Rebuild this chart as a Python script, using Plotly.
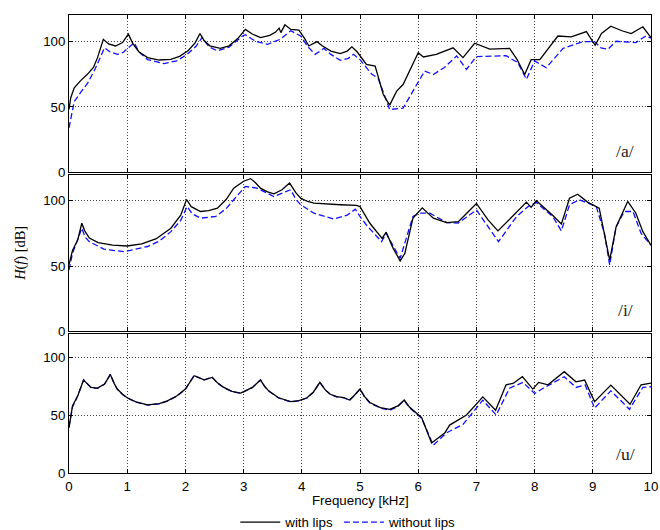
import plotly.graph_objects as go
from plotly.subplots import make_subplots

# ---------- data (frequency in kHz, magnitude in dB) ----------
a_with_f = [0.0, 0.03, 0.09, 0.2, 0.32, 0.42, 0.49, 0.59, 0.68, 0.8, 0.92, 1.02, 1.1, 1.2, 1.35, 1.55, 1.75, 1.9,
            2.05, 2.17, 2.25, 2.32, 2.42, 2.6, 2.75, 2.9, 3.03, 3.15, 3.29, 3.45, 3.55, 3.61, 3.64, 3.71, 3.81,
            3.95, 4.05, 4.12, 4.26, 4.35, 4.5, 4.66, 4.78, 4.86, 4.95, 5.0, 5.11, 5.26, 5.4, 5.51, 5.63, 5.74,
            5.87, 6.0, 6.09, 6.31, 6.6, 6.77, 6.97, 7.1, 7.23, 7.57, 7.7, 7.83, 7.94, 8.09, 8.25, 8.4, 8.63,
            8.89, 9.04, 9.15, 9.31, 9.5, 9.66, 9.86, 10.0]
a_with_v = [48, 57, 64.5, 70, 75, 80, 87.5, 101.5, 98, 96.4, 99, 105.4, 98, 92, 87.5, 85.7, 86.2, 88.5,
            93, 99, 105.9, 100.5, 96.5, 94.6, 96.5, 102, 109, 105.5, 102.8, 104.5, 107, 110, 106.6, 112.5, 109,
            108.4, 102, 96.4, 99.7, 96.5, 92.5, 90.6, 92.5, 95.7, 92, 89, 82.4, 81, 59.4, 51.3, 62, 67,
            79, 91.3, 88, 90, 95, 87.5, 98.5, 96, 94, 94.6, 86, 74.7, 86, 86, 95, 104, 103.3,
            107.4, 96.9, 106, 111.5, 108, 105.9, 111, 102.8]
a_without_f = [0.0, 0.09, 0.2, 0.32, 0.45, 0.61, 0.7, 0.83, 0.93, 1.0, 1.12, 1.2, 1.35, 1.63, 1.85, 2.03, 2.18,
               2.29, 2.4, 2.55, 2.75, 2.98, 3.03, 3.2, 3.41, 3.63, 3.81, 3.98, 4.1, 4.23, 4.38, 4.5, 4.66, 4.8,
               4.89, 5.0, 5.2, 5.31, 5.51, 5.74, 5.97, 6.11, 6.26, 6.45, 6.66, 6.83, 7.0, 7.51, 7.71, 7.86,
               8.0, 8.2, 8.49, 8.83, 9.03, 9.14, 9.26, 9.4, 9.74, 9.91, 10.0]
a_without_v = [34, 54, 61, 68, 79, 95, 92, 90, 91.5, 94, 99, 92, 86, 83, 85, 90, 96,
               103, 96, 92.6, 95.5, 104, 105, 100, 97.7, 101.5, 108, 104, 96, 90, 94.6, 90, 85.5, 87,
               90, 86, 75, 72, 48, 49, 67, 77.3, 74.7, 80, 88.8, 78.6, 88.3, 89, 83.7, 71,
               85, 79.8, 94.6, 99.7, 99.7, 95, 93.9, 100, 99, 104, 102.3]

i_with_f = [0.0, 0.06, 0.15, 0.22, 0.27, 0.35, 0.5, 0.75, 1.0, 1.25, 1.5, 1.75, 1.92, 2.02, 2.1, 2.26, 2.4,
            2.55, 2.7, 2.83, 3.0, 3.12, 3.2, 3.29, 3.4, 3.52, 3.66, 3.79, 3.9, 3.98, 4.1, 4.21, 4.66, 4.94,
            5.0, 5.17, 5.38, 5.45, 5.57, 5.69, 5.77, 5.91, 6.07, 6.26, 6.49, 6.69, 6.8, 7.0, 7.2, 7.37, 7.63,
            7.86, 7.94, 8.03, 8.31, 8.46, 8.6, 8.74, 8.91, 9.11, 9.29, 9.4, 9.6, 9.74, 9.86, 10.0]
i_with_v = [51, 62, 70, 82.8, 77, 71.5, 68, 66, 65.4, 67, 71, 79, 89, 101, 95.5, 91.8, 92.5,
            94.4, 101, 109.7, 115, 117, 114, 109.7, 107, 105.4, 108.5, 113.6, 106, 102, 99.5, 98.2, 97, 96.5,
            95.6, 82.8, 71.3, 76, 63.6, 54, 59.7, 86.7, 94.6, 86.7, 83.3, 84, 89, 98, 85.4, 77, 88.5,
            99, 95, 100, 89, 82.3, 102, 105, 99, 94.4, 54.6, 80, 99.5, 90.5, 76.4, 66]
i_without_f = [0.0, 0.06, 0.22, 0.28, 0.35, 0.6, 0.95, 1.35, 1.55, 1.75, 1.92, 2.03, 2.12, 2.26, 2.52, 2.7,
               2.83, 3.03, 3.23, 3.52, 3.81, 3.9, 3.98, 4.21, 4.55, 4.78, 4.92, 5.0, 5.11, 5.37, 5.45, 5.69,
               5.91, 6.03, 6.2, 6.49, 6.69, 7.0, 7.38, 7.69, 7.89, 8.03, 8.31, 8.46, 8.6, 8.77, 9.06, 9.2,
               9.29, 9.4, 9.54, 9.69, 9.83, 10.0]
i_without_v = [47, 59.7, 79, 72, 68.7, 63, 61, 65, 69, 76.4, 85, 95.6, 90, 86.7, 88, 94,
               100.8, 111, 109.7, 103.3, 108.5, 101, 97, 90.5, 86, 89, 93.6, 88, 81.5, 68.7, 75, 56,
               88, 90.5, 90.5, 83.3, 83, 93, 68.7, 88, 95.6, 98.7, 88, 77, 97, 100.8, 95.6, 75,
               50.8, 80, 91.8, 91.8, 75, 66]

u_with_f = [0.0, 0.06, 0.15, 0.25, 0.38, 0.49, 0.61, 0.71, 0.78, 0.83, 0.92, 1.0, 1.15, 1.35, 1.55, 1.69, 1.85,
            2.0, 2.15, 2.32, 2.46, 2.55, 2.66, 2.8, 2.95, 3.15, 3.29, 3.36, 3.43, 3.6, 3.81, 3.95, 4.09, 4.2,
            4.31, 4.4, 4.49, 4.6, 4.72, 4.82, 4.9, 5.0, 5.08, 5.17, 5.35, 5.51, 5.65, 5.76, 5.85, 5.97, 6.06,
            6.23, 6.34, 6.46, 6.54, 6.83, 7.11, 7.33, 7.51, 7.63, 7.79, 7.97, 8.07, 8.23, 8.51, 8.71, 8.86,
            9.03, 9.31, 9.64, 9.83, 10.0]
u_with_v = [39, 58, 66.7, 80.3, 73.9, 73.3, 76.8, 85, 77, 72.5, 68, 65, 61.5, 58.8, 60, 62.3, 66.5,
            72.5, 84, 80.5, 82.6, 78, 73.9, 70.5, 69, 73.9, 80.3, 75, 71, 65, 61.7, 62.5, 65, 70,
            78.3, 72, 68, 66, 65.2, 63, 67, 72.5, 66, 60.9, 56.5, 55, 58, 63, 57, 51.3, 47.8,
            26, 30.4, 34.8, 41.4, 50.1, 65.8, 54.2, 76.2, 77.4, 83.2, 72.5, 78.3, 76.2, 87.5, 78.8, 80.3,
            61.7, 75.9, 59.4, 76.2, 77.7]
u_without_f = [0.0, 0.06, 0.15, 0.25, 0.38, 0.49, 0.61, 0.71, 0.78, 0.83, 0.92, 1.0, 1.15, 1.35, 1.55, 1.69,
               1.85, 2.0, 2.15, 2.32, 2.46, 2.55, 2.66, 2.8, 2.95, 3.15, 3.29, 3.36, 3.43, 3.6, 3.81, 3.95,
               4.09, 4.2, 4.31, 4.4, 4.49, 4.6, 4.72, 4.82, 4.9, 5.0, 5.08, 5.17, 5.35, 5.51, 5.65, 5.76,
               5.85, 6.06, 6.26, 6.49, 6.77, 7.11, 7.34, 7.57, 7.8, 8.0, 8.14, 8.51, 8.71, 8.87, 9.03, 9.31,
               9.63, 9.86, 10.0]
u_without_v = [40, 57, 66.5, 80.5, 73.6, 73.1, 76.6, 85.3, 76.8, 72.2, 67.8, 64.8, 61.3, 58.6, 59.8, 62.1,
               66.3, 72.3, 84.3, 80.2, 82.8, 77.8, 73.7, 70.3, 68.8, 73.7, 80.5, 74.8, 70.8, 64.8, 61.5, 62.3,
               64.8, 69.8, 78.5, 71.8, 67.8, 65.8, 65, 62.8, 66.8, 72.5, 65.5, 60.5, 56, 54.2, 57.5, 62.6,
               56.5, 47.2, 24, 34.8, 42, 62.9, 50.1, 73.3, 78.3, 68.7, 73, 83.2, 73.9, 76, 56, 71,
               55, 74, 74.5]

vowel_labels = ["/a/", "/i/", "/u/"]
series_names = ["with lips", "without lips"]
x_ticks = [0, 1, 2, 3, 4, 5, 6, 7, 8, 9, 10]
y_ticks = [0, 50, 100]

panels = [
    (a_with_f, a_with_v, a_without_f, a_without_v),
    (i_with_f, i_with_v, i_without_f, i_without_v),
    (u_with_f, u_with_v, u_without_f, u_without_v),
]

fig = make_subplots(rows=3, cols=1, shared_xaxes=True, vertical_spacing=0.0)

for r, (wf, wv, nf, nv) in enumerate(panels, start=1):
    fig.add_trace(go.Scatter(x=nf, y=nv, mode="lines", name=series_names[1],
                             line=dict(color="#1010ff", width=1.3, dash="6px,3px"),
                             showlegend=(r == 1), legendrank=2), row=r, col=1)
    fig.add_trace(go.Scatter(x=wf, y=wv, mode="lines", name=series_names[0],
                             line=dict(color="black", width=1.3),
                             showlegend=(r == 1), legendrank=1), row=r, col=1)

# the captured page is scaled slightly when photographed, so lay out a little larger
W, H = 667, 546
KX, KY = W / 660.0, H / 530.0
plot_left, plot_right = 68 * KX, 651.5 * KX
plot_top, plot_bottom = 14.3 * KY, 470.3 * KY
plot_h = plot_bottom - plot_top


def py(ref_px):
    return (plot_bottom - ref_px * KY) / plot_h


def px(ref_px):
    return (ref_px * KX - plot_left) / (plot_right - plot_left)


domains = [[py(171.1), 1.0], [py(329.3), py(173.3)], [0.0, py(332.0)]]
tickfont = dict(family="Liberation Sans, Arial, sans-serif", size=13.3, color="black")
for r in range(1, 4):
    fig.update_xaxes(row=r, col=1, range=[0, 10], tickvals=x_ticks, showticklabels=(r == 3),
                     ticks="inside", ticklen=4, tickcolor="black", showline=True, mirror="ticks",
                     linecolor="black", linewidth=1, showgrid=True, gridcolor="#444444",
                     griddash="1px,2px", gridwidth=1, zeroline=False, tickfont=tickfont,
                     ticklabelstandoff=1)
    fig.update_yaxes(row=r, col=1, range=[0, 120], tickvals=y_ticks, domain=domains[r - 1],
                     ticks="inside", ticklen=4, tickcolor="black", showline=True, mirror="ticks",
                     linecolor="black", linewidth=1, showgrid=True, gridcolor="#444444",
                     griddash="1px,2px", gridwidth=1, zeroline=False, tickfont=tickfont)

serif = dict(family="Liberation Serif, DejaVu Serif, serif", size=17.6, color="#222222")
for r, lab in enumerate(vowel_labels, start=1):
    fig.add_annotation(x=9.56, y=16.5, xref=f"x{'' if r == 1 else r}", yref=f"y{'' if r == 1 else r}",
                       text=lab, showarrow=False, font=serif, xanchor="center", yanchor="middle")

fig.add_annotation(x=px(20), y=py(252), xref="paper", yref="paper",
                   text="<i>H</i>(<i>f</i>) [dB]", textangle=-90, showarrow=False,
                   xanchor="center", yanchor="middle",
                   font=dict(family="Liberation Serif, DejaVu Serif, serif", size=14.4, color="black"))
fig.add_annotation(x=px(360), y=py(498), xref="paper", yref="paper",
                   text="Frequency [kHz]", showarrow=False, xanchor="center", yanchor="middle",
                   font=dict(family="Liberation Sans, Arial, sans-serif", size=13.3, color="black"))

fig.update_layout(
    width=W, height=H, autosize=False,
    margin=dict(l=plot_left, r=W - plot_right, t=plot_top, b=H - plot_bottom),
    paper_bgcolor="white", plot_bgcolor="white",
    showlegend=True,
    legend=dict(orientation="h", x=px(348), xanchor="center", y=py(519.5), yanchor="middle",
                font=dict(family="Liberation Sans, Arial, sans-serif", size=13.3, color="black"),
                bgcolor="rgba(0,0,0,0)", traceorder="normal", itemwidth=40),
)

page_css = ("var s=document.createElement('style');"
            "s.textContent='html,body{margin:0!important;padding:0!important;overflow:hidden!important;}';"
            "document.head.appendChild(s);")

fig.write_html("out.html", config={"displayModeBar": False, "responsive": False}, post_script=page_css)
